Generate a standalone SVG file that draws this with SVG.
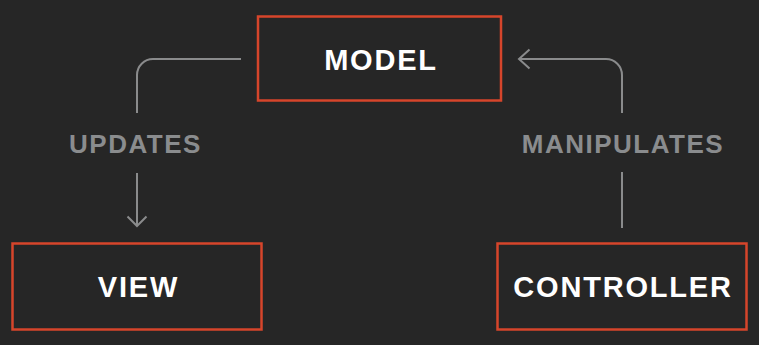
<svg xmlns="http://www.w3.org/2000/svg" width="759" height="345" viewBox="0 0 759 345">
  <style>
    .box { fill: none; stroke: #d6452b; stroke-width: 2.5; }
    .title { font-family: "Liberation Sans", Arial, sans-serif; font-weight: bold; font-size: 29px; fill: #ffffff; text-anchor: middle; letter-spacing: 1.8px; }
    .label { font-family: "Liberation Sans", Arial, sans-serif; font-weight: bold; font-size: 26px; fill: #8a8c8e; text-anchor: middle; letter-spacing: 1.5px; }
    .wire { fill: none; stroke: #8a8b8c; stroke-width: 2; stroke-linecap: butt; stroke-linejoin: miter; }
  </style>
  <rect width="759" height="345" fill="#262626"/>

  <g id="connectors">
    <!-- Model -> View (updates) -->
    <path class="wire" d="M241,59 H153 A16,16 0 0 0 137,75 V113"/>
    <path class="wire" d="M137,173 V226"/>
    <polyline class="wire" points="127.5,216.5 137,226 146.5,216.5"/>
    <text class="label" x="135.5" y="153">UPDATES</text>
    <!-- Controller -> Model (manipulates) -->
    <path class="wire" d="M622,113 V75 A16,16 0 0 0 606,59 H519"/>
    <polyline class="wire" points="529.5,49.5 519,59 529.5,68.5"/>
    <path class="wire" d="M622,172 V228"/>
    <text class="label" x="623" y="153">MANIPULATES</text>
  </g>

  <g id="model">
    <rect class="box" x="258" y="16.5" width="243" height="84"/>
    <text class="title" x="381" y="70">MODEL</text>
  </g>

  <g id="view">
    <rect class="box" x="12.5" y="243.5" width="249" height="86"/>
    <text class="title" x="138.5" y="297">VIEW</text>
  </g>

  <g id="controller">
    <rect class="box" x="497.5" y="243.5" width="249" height="86"/>
    <text class="title" x="623" y="297">CONTROLLER</text>
  </g>
</svg>
